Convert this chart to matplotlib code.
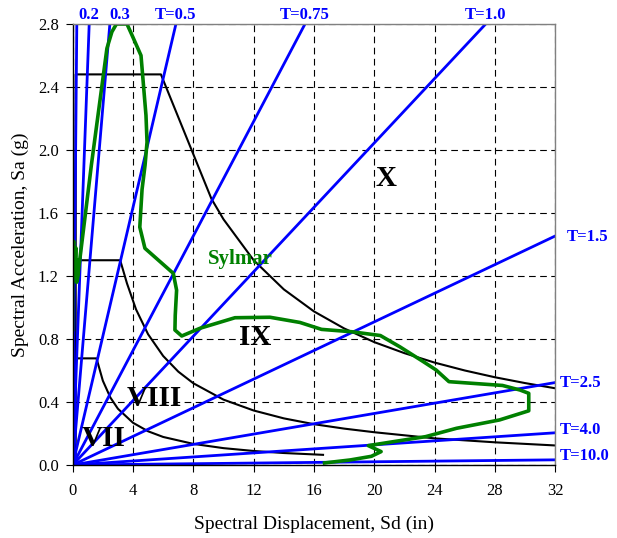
import numpy as np
import matplotlib
matplotlib.use("Agg")
import matplotlib.pyplot as plt

plt.rcParams['font.family'] = ['Liberation Serif', 'DejaVu Serif']

G_IN = 386.1  # in/s^2

# constant-period radial lines
periods = [0.1, 0.2, 0.3, 0.5, 0.75, 1.0, 1.5, 2.5, 4.0, 10.0]
top_labels = {0.2: "0.2", 0.3: "0.3", 0.5: "T=0.5", 0.75: "T=0.75", 1.0: "T=1.0"}
right_labels = {1.5: "T=1.5", 2.5: "T=2.5", 4.0: "T=4.0", 10.0: "T=10.0"}

# intensity zone boundaries (X/IX, IX/VIII, VIII/VII)
zone10_sd = [0.2, 0.2, 5.85, 9.2, 10, 12, 14, 16, 18, 20, 22, 24, 26, 28, 30, 32]
zone10_sa = [0, 2.48, 2.48, 1.69, 1.56, 1.30, 1.115, 0.975, 0.867, 0.78, 0.71,
             0.65, 0.60, 0.557, 0.52, 0.487]
zone9_sd = [0.1, 0.1, 3.15, 3.6, 4.2, 5, 6, 7, 8, 10, 12, 14, 16, 18, 20, 24, 28, 32]
zone9_sa = [0, 1.30, 1.30, 1.153, 0.988, 0.83, 0.692, 0.593, 0.519, 0.415, 0.346,
            0.296, 0.259, 0.231, 0.208, 0.169, 0.144, 0.124]
zone8_sd = [0.1, 0.1, 1.58, 2, 2.5, 3, 4, 5, 6, 8, 10, 12, 14, 16.6]
zone8_sa = [0, 0.677, 0.677, 0.535, 0.428, 0.357, 0.268, 0.214, 0.178, 0.134,
            0.107, 0.089, 0.076, 0.0645]

# Sylmar record spectrum
sylmar_sd = [0, 0, 0.08, 0.12, 0.2, 0.26, 0.35, 0.3, 1.24, 2.27, 2.6, 2.9, 3.6, 3.93,
             4.53, 4.86, 4.93, 4.8, 4.6, 4.45, 4.79, 6.67, 6.89, 6.8, 6.78, 7.23,
             8.44, 10.76, 13.08, 15.07, 16.5, 18.5, 20.4, 21.7, 23.25, 24.1, 24.95,
             28.5, 29.66, 30.24, 30.24, 28.3, 25.45, 23.4, 21.26, 19.6, 20.45,
             19.8, 18.4, 16.7]
sylmar_sa = [0.86, 1.40, 1.42, 1.20, 1.38, 1.16, 1.30, 1.17, 1.905, 2.645, 2.75, 2.8,
             2.8, 2.73, 2.60, 2.22, 2.05, 1.905, 1.75, 1.51, 1.376, 1.217, 1.11,
             0.95, 0.857, 0.819, 0.868, 0.935, 0.938, 0.905, 0.861, 0.846, 0.822,
             0.75, 0.656, 0.603, 0.529, 0.505, 0.476, 0.455, 0.344, 0.286, 0.233,
             0.18, 0.148, 0.123, 0.085, 0.055, 0.032, 0.013]

SD_MAX, SA_MAX = 32, 2.8

fig = plt.figure(figsize=(6.17, 5.38), dpi=100)
ax = fig.add_axes([0.1178, 0.1357, 0.9 - 0.1178, 0.9554 - 0.1357])

ax.set_xlim(0, SD_MAX)
ax.set_ylim(0, SA_MAX)
ax.set_xticks(np.arange(0, 33, 4))
ax.set_yticks(np.arange(0, 2.81, 0.4))
ax.set_yticklabels([f"{v:.1f}" for v in np.arange(0, 2.81, 0.4)])
ax.grid(True, color='black', linestyle=(0, (6, 4)), linewidth=0.8)
ax.tick_params(direction='out', length=5, width=0.8, labelsize=12)
ax.tick_params(axis='x', pad=8)
ax.tick_params(axis='y', pad=5)

for side in ['top', 'right']:
    ax.spines[side].set_color('#808080')
for side in ['left', 'bottom']:
    ax.spines[side].set_color('black')
for s in ax.spines.values():
    s.set_linewidth(1.0)
    s.set_zorder(6)

# zone boundaries
for sd, sa in [(zone10_sd, zone10_sa), (zone9_sd, zone9_sa), (zone8_sd, zone8_sa)]:
    ax.plot(sd, sa, color='black', linewidth=1.5, zorder=3)

# period lines: Sd = Sa * g * T^2 / (4 pi^2)
sd_line = np.array([0, SD_MAX])
for T in periods:
    k = G_IN * T ** 2 / (4 * np.pi ** 2)
    ax.plot(sd_line, sd_line / k, color='#0000FF', linewidth=2.0, zorder=4)
    if T in top_labels:
        sd_top = SA_MAX * k
        ha = 'left' if T == 0.3 else 'center'
        ax.annotate(top_labels[T], (sd_top, SA_MAX), xytext=(0, 1),
                    textcoords='offset points', ha=ha, va='bottom',
                    color='#0000FF', fontsize=12, fontweight='bold',
                    annotation_clip=False)
    if T in right_labels:
        dx = 8.5 if T == 1.5 else 3.5
        dy = {1.5: -1, 2.5: 0, 4.0: 2, 10.0: 3}[T]
        ax.annotate(right_labels[T], (SD_MAX, SD_MAX / k), xytext=(dx, dy),
                    textcoords='offset points', ha='left', va='center',
                    color='#0000FF', fontsize=12, fontweight='bold',
                    annotation_clip=False)

ax.plot(sylmar_sd, sylmar_sa, color='#008000', linewidth=2.6, zorder=5)
ax.text(11.1, 1.31, "Sylmar", color='#008000', fontsize=15, fontweight='bold',
        ha='center', va='center', zorder=7)

for txt, x, y in [("X", 20.8, 1.82), ("IX", 12.1, 0.81), ("VIII", 5.4, 0.425), ("VII", 2.03, 0.17)]:
    ax.text(x, y, txt, fontsize=21, fontweight='bold', ha='center', va='center', zorder=7)

ax.set_xlabel("Spectral Displacement, Sd (in)", fontsize=14, labelpad=12)
ax.set_ylabel("Spectral Acceleration, Sa (g)", fontsize=14, labelpad=6)

fig.savefig("out.png", dpi=100)
